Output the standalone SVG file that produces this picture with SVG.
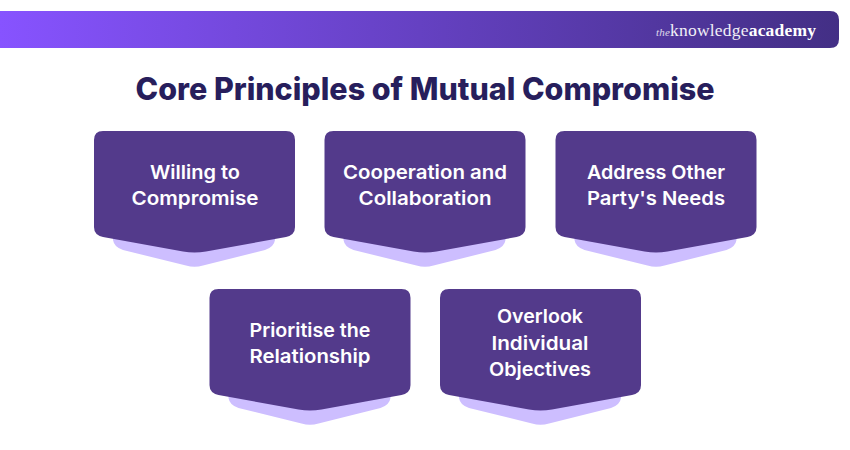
<svg xmlns="http://www.w3.org/2000/svg" width="850" height="450" viewBox="0 0 850 450">
<style>
text{font-family:"Inter","Liberation Sans",sans-serif}
.t{fill:#fff;font-size:19px;font-weight:600;text-anchor:middle}
.b{fill:#533A8B}
.s{fill:#CDBEFF}
.l{font-family:"Liberation Serif",serif;fill:#fff;font-size:17.5px}
</style>
<defs>
<linearGradient id="g" x1="0" y1="0" x2="1" y2="0"><stop offset="0" stop-color="#8753FF"/><stop offset="1" stop-color="#432F85"/></linearGradient>
<g id="card">
<path class="s" d="M19 105H181V109Q180 116 171 119L109 134.500Q100.500 137 92 134.500L29 119Q20 116 19 109Z"/>
<path class="b" d="M9 0H192Q201 0 201 9V96Q201 104 192 106L112 120.500Q100.500 122.500 89 120.500L9 106Q0 104 0 96V9Q0 0 9 0Z"/>
</g>
</defs>
<g id="header">
<path d="M0 11H830Q839 11 839 20V39Q839 48 830 48H0Z" fill="url(#g)"/>
<text class="l" x="656" y="36" textLength="160" lengthAdjust="spacing"><tspan font-style="italic" font-size="11" opacity=".8">the</tspan><tspan opacity=".92">knowledge</tspan><tspan font-weight="700">academy</tspan></text>
</g>
<text id="title" x="425" y="100" text-anchor="middle" font-size="31" font-weight="800" fill="#271E5C" textLength="579" lengthAdjust="spacingAndGlyphs">Core Principles of Mutual Compromise</text>
<g id="node1"><use href="#card" x="94" y="131"/><text class="t" x="195" y="179" textLength="90" lengthAdjust="spacingAndGlyphs">Willing to</text><text class="t" x="195" y="205" textLength="127" lengthAdjust="spacingAndGlyphs">Compromise</text></g>
<g id="node2"><use href="#card" x="324.500" y="131"/><text class="t" x="425" y="179" textLength="164" lengthAdjust="spacingAndGlyphs">Cooperation and</text><text class="t" x="425" y="205" textLength="133" lengthAdjust="spacingAndGlyphs">Collaboration</text></g>
<g id="node3"><use href="#card" x="555.500" y="131"/><text class="t" x="656" y="179" textLength="138" lengthAdjust="spacingAndGlyphs">Address Other</text><text class="t" x="656" y="205" textLength="138" lengthAdjust="spacingAndGlyphs">Party's Needs</text></g>
<g id="node4"><use href="#card" x="209.500" y="289"/><text class="t" x="310" y="337" textLength="121" lengthAdjust="spacingAndGlyphs">Prioritise the</text><text class="t" x="310" y="363" textLength="121" lengthAdjust="spacingAndGlyphs">Relationship</text></g>
<g id="node5"><use href="#card" x="440" y="289"/><text class="t" x="540" y="323" textLength="86" lengthAdjust="spacingAndGlyphs">Overlook</text><text class="t" x="540" y="349.500" textLength="97" lengthAdjust="spacingAndGlyphs">Individual</text><text class="t" x="540" y="376" textLength="102" lengthAdjust="spacingAndGlyphs">Objectives</text></g>
<g id="connectors"/>
</svg>
